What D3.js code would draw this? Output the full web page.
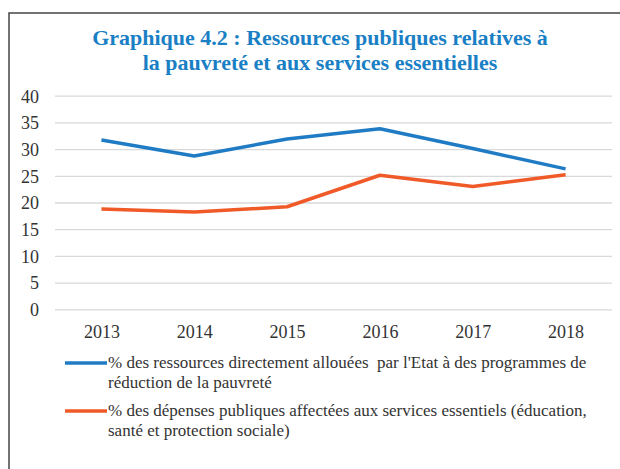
<!DOCTYPE html>
<html><head><meta charset="utf-8">
<script src="https://cdn.jsdelivr.net/npm/d3@7"></script>
<style>body{margin:0;background:#fff}svg{display:block}</style>
</head><body>
<script>
const years = ["2013","2014","2015","2016","2017","2018"];
const ressourcesPauvrete = [31.7, 28.7, 31.9, 33.8, 30.1, 26.3];
const depensesServices = [18.8, 18.2, 19.2, 25.1, 23.0, 25.2];
const yTicks = [0,5,10,15,20,25,30,35,40];
const titleLines = ["Graphique 4.2 : Ressources publiques relatives à", "la pauvreté et aux services essentielles"];
const legendLabels = [
  ["% des ressources directement allouées  par l'Etat à des programmes de", "réduction de la pauvreté"],
  ["% des dépenses publiques affectées aux services essentiels (éducation,", "santé et protection sociale)"]
];
const colors = ["#1f7cc4", "#f05a28"];

const W = 620, H = 469;
const SERIF = '"Liberation Serif"';
const svg = d3.select("body").append("svg").attr("width", W).attr("height", H);

// frame
svg.append("path").attr("d", `M9,${H} L9,13 L${W},13`).attr("fill","none").attr("stroke","#444").attr("stroke-width",1.5);

// title
svg.append("g").selectAll("text").data(titleLines).join("text")
  .style("font-family",SERIF)
  .attr("x", 320).attr("y", (d,i)=>45 + i*24.5)
  .attr("text-anchor","middle").attr("font-weight","bold")
  .attr("font-size",22).attr("fill","#1a7fc4").text(d=>d);

const x = d3.scalePoint().domain(years).range([55, 612]).padding(0.5);
const y = d3.scaleLinear().domain([0,40]).range([309.3, 95.7]);

// grid
const yAxis = d3.axisLeft(y).tickValues(yTicks).tickSize(-(612-55)).tickPadding(16);
const gy = svg.append("g").attr("transform","translate(55,0)").call(yAxis);
gy.select(".domain").remove();
gy.selectAll(".tick line").attr("stroke","#d9d9d9").attr("stroke-width",1.3);
gy.selectAll(".tick text").style("font-family",SERIF).attr("font-size",18).attr("fill","#333").attr("dy","0.35em");

const xAxis = d3.axisBottom(x).tickSize(0).tickPadding(16);
const gx = svg.append("g").attr("transform","translate(0,309.3)").call(xAxis);
gx.select(".domain").remove();
gx.selectAll(".tick text").style("font-family",SERIF).attr("font-size",18).attr("fill","#333");

const line = d3.line().x((d,i)=>x(years[i])).y(d=>y(d));
[ressourcesPauvrete, depensesServices].forEach((s,k)=>{
  svg.append("path").datum(s).attr("d", line).attr("fill","none")
    .attr("stroke", colors[k]).attr("stroke-width",3.5).attr("stroke-linejoin","round");
});

// legend
const legY = [363, 411];
legendLabels.forEach((lines,k)=>{
  svg.append("line").attr("x1",65).attr("x2",107).attr("y1",legY[k]).attr("y2",legY[k])
    .attr("stroke",colors[k]).attr("stroke-width",3.5);
  svg.append("g").selectAll("text").data(lines).join("text")
    .style("font-family",SERIF).style("white-space","pre")
    .attr("x",108).attr("y",(d,i)=>legY[k]+5+i*19.5)
    .attr("font-size",17).attr("fill","#333").text(d=>d);
});
</script>
</body></html>
